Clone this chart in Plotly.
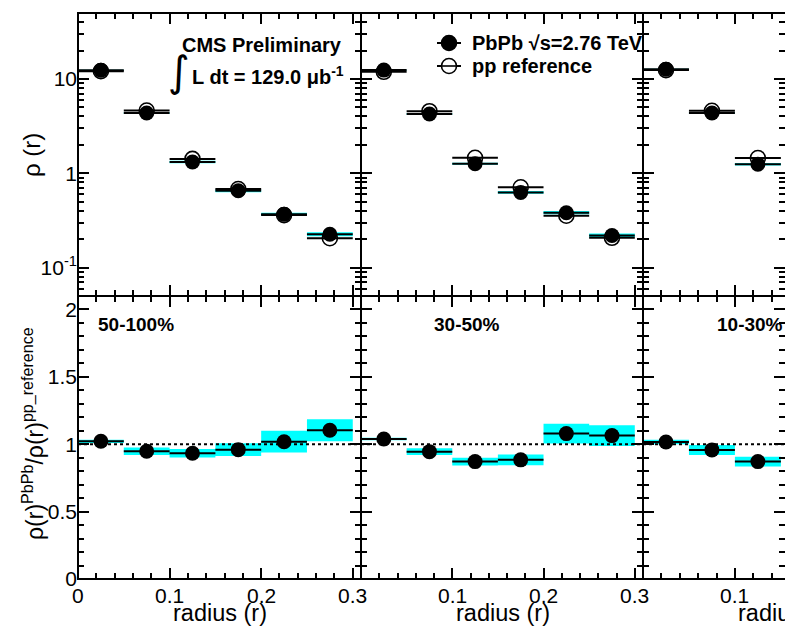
import math
import plotly.graph_objects as go

# ---------------------------------------------------------------- data
# radial bins of the jet cone
r_lo = [0.00, 0.05, 0.10, 0.15, 0.20, 0.25]
r_hi = [0.05, 0.10, 0.15, 0.20, 0.25, 0.30]

centralities = ["50-100%", "30-50%", "10-30%"]

# differential jet shape rho(r), PbPb
rho_pbpb_50_100 = [12.35, 4.36, 1.315, 0.652, 0.367, 0.226]
rho_pbpb_30_50 = [12.4, 4.25, 1.265, 0.627, 0.382, 0.219]
rho_pbpb_10_30 = [12.65, 4.36, 1.245]

# relative systematic uncertainty on rho(r) PbPb
rho_sys_50_100 = [0.012, 0.02, 0.03, 0.035, 0.04, 0.05]
rho_sys_30_50 = [0.012, 0.02, 0.025, 0.035, 0.04, 0.05]
rho_sys_10_30 = [0.012, 0.02, 0.03]

# pp reference rho(r)
rho_pp_50_100 = [12.1, 4.62, 1.42, 0.68, 0.360, 0.205]
rho_pp_30_50 = [11.9, 4.55, 1.46, 0.71, 0.355, 0.207]
rho_pp_10_30 = [12.4, 4.6, 1.45]

# PbPb / pp ratio and its systematic uncertainty
ratio_50_100 = [1.022, 0.948, 0.933, 0.960, 1.019, 1.104]
ratio_30_50 = [1.039, 0.945, 0.871, 0.884, 1.079, 1.064]
ratio_10_30 = [1.017, 0.958, 0.871]
ratio_sys_50_100 = [0.012, 0.027, 0.031, 0.048, 0.081, 0.082]
ratio_sys_30_50 = [0.010, 0.025, 0.028, 0.040, 0.073, 0.077]
ratio_sys_10_30 = [0.017, 0.037, 0.037]

# axis ticks
x_major = [0.0, 0.1, 0.2, 0.3]
x_labels = ["0", "0.1", "0.2", "0.3"]
rho_tickvals = [0.1, 1, 10]
rho_ticktext = ["10<sup>-1</sup>", "1", "10"]
ratio_tickvals = [0, 0.5, 1, 1.5, 2]
ratio_ticktext = ["0", "0.5", "1", "1.5", "2"]

panels = [
    (rho_pbpb_50_100, rho_sys_50_100, rho_pp_50_100, ratio_50_100, ratio_sys_50_100),
    (rho_pbpb_30_50, rho_sys_30_50, rho_pp_30_50, ratio_30_50, ratio_sys_30_50),
    (rho_pbpb_10_30, rho_sys_10_30, rho_pp_10_30, ratio_10_30, ratio_sys_10_30),
]

# ---------------------------------------------------------------- layout geometry
W, H = 785, 626
ML, MT, MB = 78, 13, 47
PW, PH = W - ML, H - MT - MB
col_px = [(78, 361), (361, 643), (643, 785)]
x_max = [0.309, 0.309, 0.1545]

FONT = "Liberation Sans, Arial, Helvetica, sans-serif"
CYAN = "#00FFFF"


def px(x):
    return (x - ML) / PW


def py(y):
    return (H - MB - y) / PH


fig = go.Figure()


def box_path(x0s, x1s, lows, highs):
    xs, ys = [], []
    for a, b, lo, hi in zip(x0s, x1s, lows, highs):
        xs += [a, b, b, a, a, None]
        ys += [lo, lo, hi, hi, lo, None]
    return xs, ys


for i, (pbpb, sys, pp, ratio, rsys) in enumerate(panels):
    n = len(pbpb)
    lo, hi = r_lo[:n], r_hi[:n]
    mid = [(a + b) / 2 for a, b in zip(lo, hi)]
    half = [(b - a) / 2 for a, b in zip(lo, hi)]
    xt, yt = f"x{i + 1}", f"y{i + 1}"
    xb, yb = f"x{i + 4}", f"y{i + 4}"

    # top: systematic boxes on PbPb
    bx, by = box_path(lo, hi, [v * (1 - s) for v, s in zip(pbpb, sys)],
                      [v * (1 + s) for v, s in zip(pbpb, sys)])
    fig.add_trace(go.Scatter(x=bx, y=by, xaxis=xt, yaxis=yt, mode="lines",
                             fill="toself", fillcolor=CYAN, line=dict(width=0),
                             hoverinfo="skip", showlegend=False))
    # pp reference (open circles)
    fig.add_trace(go.Scatter(
        x=mid, y=pp, xaxis=xt, yaxis=yt, mode="markers", showlegend=False,
        marker=dict(symbol="circle-open", size=15, color="black", line=dict(width=1.6)),
        error_x=dict(type="data", array=half, width=0, thickness=2, color="black")))
    # PbPb (filled circles)
    fig.add_trace(go.Scatter(
        x=mid, y=pbpb, xaxis=xt, yaxis=yt, mode="markers", showlegend=False,
        marker=dict(symbol="circle", size=15, color="black"),
        error_x=dict(type="data", array=half, width=0, thickness=2, color="black")))

    # bottom: ratio with systematic boxes
    bx, by = box_path(lo, hi, [v - s for v, s in zip(ratio, rsys)],
                      [v + s for v, s in zip(ratio, rsys)])
    fig.add_trace(go.Scatter(x=bx, y=by, xaxis=xb, yaxis=yb, mode="lines",
                             fill="toself", fillcolor=CYAN, line=dict(width=0),
                             hoverinfo="skip", showlegend=False))
    fig.add_trace(go.Scatter(x=[0, x_max[i]], y=[1, 1], xaxis=xb, yaxis=yb,
                             mode="lines", line=dict(color="black", width=2, dash="dot"),
                             hoverinfo="skip", showlegend=False))
    fig.add_trace(go.Scatter(
        x=mid, y=ratio, xaxis=xb, yaxis=yb, mode="markers", showlegend=False,
        marker=dict(symbol="circle", size=15, color="black"),
        error_x=dict(type="data", array=half, width=0, thickness=2, color="black")))

# ---------------------------------------------------------------- axes
x_minor = [round(0.02 * k, 2) for k in range(0, 16) if k % 5 != 0]
log_minor = [m * 10.0 ** e for e in (-2, -1, 0, 1) for m in range(2, 10)]
lin_minor = [round(0.1 * k, 1) for k in range(0, 22) if k % 5 != 0]

common = dict(showline=False, ticks="inside", mirror="ticks",
              tickcolor="black", tickwidth=1.5, ticklen=11, showgrid=False,
              zeroline=False, tickfont=dict(family=FONT, size=21, color="black"))
minor_style = dict(tickmode="array", ticks="inside", ticklen=6, tickwidth=1.5,
                   tickcolor="black")

layout_axes = {}
for i in range(3):
    dom = [px(col_px[i][0]), min(1.0, px(col_px[i][1]))]
    for k in (i + 1, i + 4):
        layout_axes[f"xaxis{k}"] = dict(
            common, domain=dom, range=[0, x_max[i]], anchor=f"y{k}",
            tickmode="array", tickvals=x_major, showticklabels=False,
            minor=dict(minor_style, tickvals=x_minor))
    # top y axis (log)
    layout_axes[f"yaxis{i + 1}"] = dict(
        common, type="log", domain=[0.5, 1.0], anchor=f"x{i + 1}",
        range=[math.log10(0.05), math.log10(50)],
        tickmode="array", tickvals=rho_tickvals, ticktext=rho_ticktext,
        showticklabels=(i == 0),
        minor=dict(minor_style, tickvals=log_minor))
    # bottom y axis (ratio)
    layout_axes[f"yaxis{i + 4}"] = dict(
        common, domain=[0.0, 0.5], anchor=f"x{i + 4}",
        range=[0, 2.1], tickmode="array", tickvals=ratio_tickvals,
        ticktext=ratio_ticktext, showticklabels=(i == 0),
        minor=dict(minor_style, tickvals=lin_minor))

fig.update_layout(**layout_axes)

# ---------------------------------------------------------------- text
ann = []


def text(x, y, s, size=20, bold=False, xanchor="center", angle=0, family=FONT):
    if bold:
        s = f"<b>{s}</b>"
    ann.append(dict(x=px(x), y=py(y), xref="paper", yref="paper", text=s,
                    showarrow=False, xanchor=xanchor, yanchor="middle",
                    textangle=angle, font=dict(family=family, size=size, color="black")))


text(262, 45, "CMS Preliminary", size=20, bold=True)
text(179, 72, "∫", size=42, family="DejaVu Sans")
text(190, 75, "L dt = 129.0 μb<sup>-1</sup>", size=20, bold=True, xanchor="left")

text(470, 43, "PbPb √s=2.76 TeV", size=20, bold=True, xanchor="left")
text(470, 66, "pp reference", size=20, bold=True, xanchor="left")

for i, lab in enumerate(centralities):
    xs = [96, 432, 715][i]
    text(xs, 325, lab, size=19, bold=True, xanchor="left")

# x tick labels under the ratio panels
for i in range(3):
    for v, lab in zip(x_major, x_labels):
        if v > x_max[i] or (i > 0 and v == 0):
            continue
        ann.append(dict(x=v, y=py(595), xref=f"x{i + 4}", yref="paper", text=lab,
                        showarrow=False, xanchor="center", yanchor="middle",
                        font=dict(family=FONT, size=21, color="black")))

for c in col_px:
    text(c[0] + 141.5, 613, "radius (r)", size=23.5)

text(31, 155, "ρ (r)", size=24, angle=-90)
text(33, 434, "ρ(r)<sup>PbPb</sup>/ρ(r)<sup>pp_reference</sup>", size=23, angle=-90)

# panel frames
shapes = []
for i, c in enumerate(col_px):
    x1 = px(c[1]) if i < 2 else 1.2
    for y0, y1 in ((0.0, 0.5), (0.5, 1.0)):
        shapes.append(dict(type="rect", xref="paper", yref="paper",
                           x0=px(c[0]), x1=x1, y0=y0, y1=y1,
                           line=dict(color="black", width=2), layer="above"))

# legend glyphs
for yy, filled in ((43, True), (66, False)):
    shapes.append(dict(type="line", xref="paper", yref="paper",
                       x0=px(437), x1=px(461), y0=py(yy), y1=py(yy),
                       line=dict(color="black", width=2)))
    shapes.append(dict(type="circle", xref="paper", yref="paper",
                       xsizemode="pixel", ysizemode="pixel",
                       xanchor=px(449), yanchor=py(yy),
                       x0=-7.5, x1=7.5, y0=-7.5, y1=7.5,
                       fillcolor="black" if filled else "white",
                       line=dict(color="black", width=1.6)))
    if not filled:
        shapes.append(dict(type="line", xref="paper", yref="paper",
                           x0=px(442), x1=px(456), y0=py(yy), y1=py(yy),
                           line=dict(color="black", width=1.6)))

fig.update_layout(
    width=W, height=H, margin=dict(l=ML, r=0, t=MT, b=MB, pad=0),
    paper_bgcolor="white", plot_bgcolor="white",
    annotations=ann, shapes=shapes, showlegend=False,
)

fig.write_html("out.html")
